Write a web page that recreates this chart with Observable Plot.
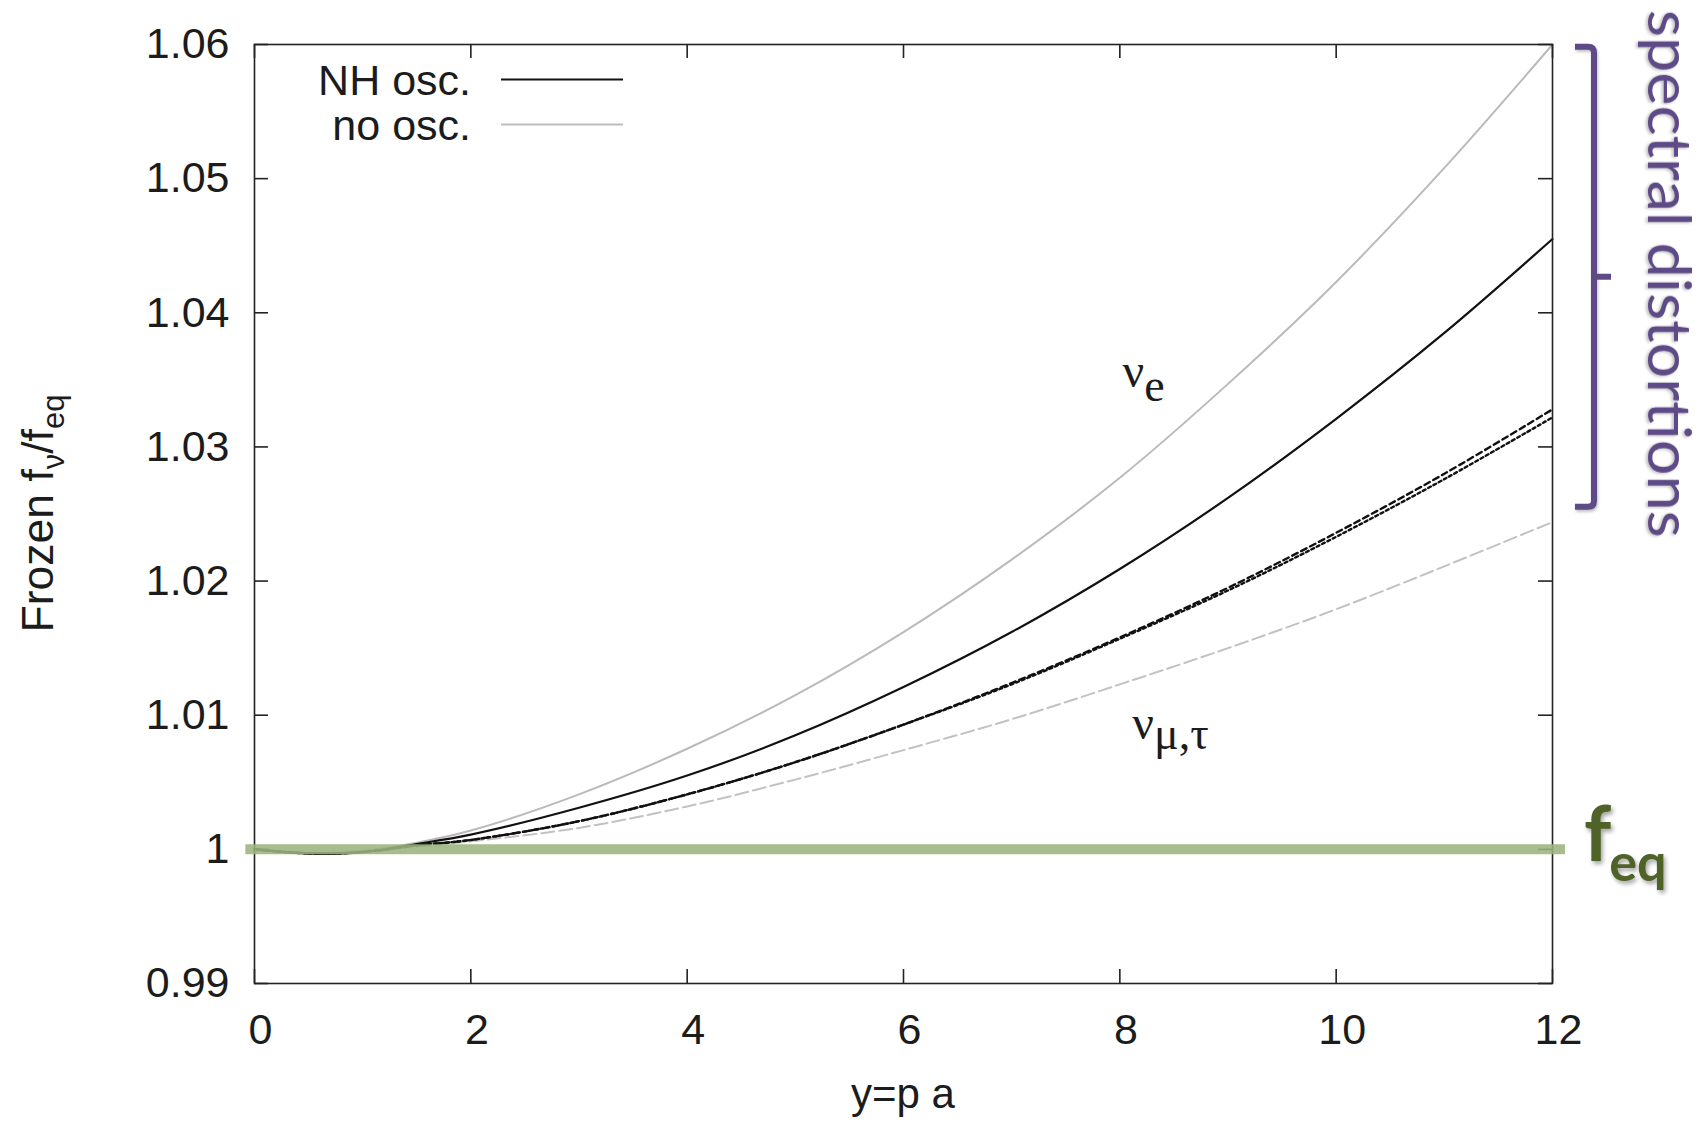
<!DOCTYPE html>
<html>
<head>
<meta charset="utf-8">
<script src="https://cdn.jsdelivr.net/npm/d3@7"></script>
<script src="https://cdn.jsdelivr.net/npm/@observablehq/plot@0.6"></script>
<style>
  html, body { margin: 0; padding: 0; background: #ffffff; }
  #chart { width: 1708px; height: 1126px; }
</style>
</head>
<body>
<div id="chart"></div>
<script>
// Comoving momentum y = p a at which the frozen spectra are sampled
const yGrid = [0, 0.5, 1, 1.5, 2, 3, 4, 5, 6, 7, 8, 9, 10, 11, 12];

// Frozen f_nu / f_eq, normal hierarchy with oscillations
const nhNuE   = [1.0000, 0.9997, 0.9998, 1.0004, 1.0011, 1.0031, 1.0055, 1.0085, 1.0121, 1.0162, 1.0209, 1.0262, 1.0321, 1.0385, 1.0455];
const nhNuMu  = [1.0000, 0.9997, 0.9998, 1.0003, 1.0007, 1.0021, 1.0041, 1.0065, 1.0093, 1.0124, 1.0158, 1.0195, 1.0236, 1.0280, 1.0328];
const nhNuTau = [1.0000, 0.9997, 0.9998, 1.0003, 1.0007, 1.0021, 1.0041, 1.0065, 1.0093, 1.0123, 1.0157, 1.0193, 1.0233, 1.0276, 1.0322];

// Frozen f_nu / f_eq without oscillations
const noOscNuE     = [1.0000, 0.9997, 0.9999, 1.0005, 1.0014, 1.0041, 1.0075, 1.0115, 1.0162, 1.0216, 1.0277, 1.0347, 1.0423, 1.0508, 1.0600];
const noOscNuMuTau = [1.0000, 0.9997, 0.9998, 1.0002, 1.0006, 1.0016, 1.0032, 1.0052, 1.0074, 1.0097, 1.0123, 1.0150, 1.0179, 1.0211, 1.0244];

// Axis ticks
const xTicks = [0, 2, 4, 6, 8, 10, 12];
const yTicks = [0.99, 1, 1.01, 1.02, 1.03, 1.04, 1.05, 1.06];

// Equilibrium reference level and the band of distorted spectra
const feqLevel = [{y: 1, x1: -0.08, x2: 12.12}];
const distortionBand = [1.0255, 1.0598];

const width = 1708, height = 1126;
const margin = {top: 44, right: 156, bottom: 143, left: 254};
const plotW = width - margin.left - margin.right;
const plotH = height - margin.top - margin.bottom;
const tickLen = 14;
const ink = "#1c1c1c";
const sans = "'Liberation Sans', Arial, Helvetica, sans-serif";
const serif = "'Liberation Serif', 'Times New Roman', serif";
const humanist = "Lato, 'Open Sans', sans-serif";

const rows = (values) => yGrid.map((x, i) => ({x, v: values[i]}));
const fmtY = (d) => (d === 1 ? "1" : d3.format(".2f")(d));
const curve = "catmull-rom";

const plot = Plot.plot({
  width, height,
  marginTop: margin.top, marginRight: margin.right,
  marginBottom: margin.bottom, marginLeft: margin.left,
  style: {fontFamily: sans, color: ink, background: "#ffffff", overflow: "visible"},
  x: {domain: [0, 12]},
  y: {domain: [0.99, 1.06]},
  marks: [
    // curves
    Plot.line(rows(noOscNuE), {x: "x", y: "v", stroke: "#bababa", strokeWidth: 2, curve}),
    Plot.line(rows(noOscNuMuTau), {x: "x", y: "v", stroke: "#c2c2c2", strokeWidth: 2, strokeDasharray: "13,5", curve}),
    Plot.line(rows(nhNuE), {x: "x", y: "v", stroke: "#111111", strokeWidth: 2.2, curve}),
    Plot.line(rows(nhNuMu), {x: "x", y: "v", stroke: "#111111", strokeWidth: 2.4, strokeDasharray: "6,4", curve}),
    Plot.line(rows(nhNuTau), {x: "x", y: "v", stroke: "#111111", strokeWidth: 2.4, strokeDasharray: "3,3", curve}),
    // frame with inward ticks on all four sides
    Plot.frame({stroke: "#222222", strokeWidth: 1.6}),
    Plot.tickX(xTicks, {x: (d) => d, insetTop: plotH - tickLen, stroke: "#222222", strokeWidth: 1.6}),
    Plot.tickX(xTicks, {x: (d) => d, insetBottom: plotH - tickLen, stroke: "#222222", strokeWidth: 1.6}),
    Plot.tickY(yTicks, {y: (d) => d, insetRight: plotW - tickLen, stroke: "#222222", strokeWidth: 1.6}),
    Plot.tickY(yTicks, {y: (d) => d, insetLeft: plotW - tickLen, stroke: "#222222", strokeWidth: 1.6}),
    Plot.axisX(xTicks, {anchor: "bottom", tickSize: 0, tickPadding: 30, fontSize: 43, dx: 6, label: null, fill: ink}),
    Plot.axisY(yTicks, {anchor: "left", tickSize: 0, tickPadding: 25, fontSize: 43, tickFormat: fmtY, label: null, fill: ink}),
    // equilibrium level
    Plot.ruleY(feqLevel, {y: "y", x1: "x1", x2: "x2", stroke: "#9cb47d", strokeWidth: 10, strokeOpacity: 0.88, ariaLabel: "feq-line"})
  ]
});

document.getElementById("chart").appendChild(plot);

const sx = plot.scale("x").apply;
const sy = plot.scale("y").apply;
const svg = d3.select(plot);

svg.selectAll('g[aria-label="feq-line"]').style("filter", "drop-shadow(0px 4px 3px rgba(0,0,0,0.35))");

// axis titles
svg.append("text")
  .attr("x", sx(6)).attr("y", height - 18)
  .attr("text-anchor", "middle").attr("font-size", 42).attr("fill", ink)
  .attr("font-family", sans)
  .text("y=p a");

const yTitle = svg.append("text")
  .attr("transform", `translate(53, ${(margin.top + height - margin.bottom) / 2}) rotate(-90)`)
  .attr("text-anchor", "middle").attr("font-size", 44.5).attr("fill", ink)
  .attr("font-family", sans);
yTitle.append("tspan").text("Frozen f");
yTitle.append("tspan").attr("font-size", 31).attr("dy", 11).text("ν");
yTitle.append("tspan").attr("dy", -11).text("/f");
yTitle.append("tspan").attr("font-size", 31).attr("dy", 11).text("eq");

// legend
const legend = [
  {label: "NH osc.", stroke: "#111111", width: 2.2, row: 0},
  {label: "no osc.", stroke: "#bdbdbd", width: 2, row: 1}
];
const lg = svg.append("g").attr("font-family", sans).attr("font-size", 43).attr("fill", ink);
legend.forEach((d) => {
  const base = margin.top + 51 + d.row * 45;
  lg.append("text").attr("x", margin.left + 217).attr("y", base)
    .attr("text-anchor", "end").text(d.label);
  lg.append("line")
    .attr("x1", margin.left + 247).attr("x2", margin.left + 369)
    .attr("y1", base - 15.5).attr("y2", base - 15.5)
    .attr("stroke", d.stroke).attr("stroke-width", d.width);
});

// curve labels
function greekLabel(at, main, sub, dy) {
  const t = svg.append("text")
    .attr("x", sx(at[0])).attr("y", sy(at[1]))
    .attr("text-anchor", "start")
    .attr("font-family", serif).attr("font-size", 48).attr("fill", ink);
  t.append("tspan").text(main);
  t.append("tspan").attr("dy", dy).attr("font-size", 46).text(sub);
}
greekLabel([8.03, 1.0344], "ν", "e", 14);
greekLabel([8.12, 1.0082], "ν", "μ,τ", 10);

// f_eq annotation
const green = "#4f6228";
const feq = svg.append("text")
  .attr("x", sx(12) + 32).attr("y", sy(1) + 12)
  .attr("text-anchor", "start")
  .attr("font-family", humanist).attr("font-weight", 700)
  .attr("font-size", 76).attr("fill", green)
  .style("filter", "drop-shadow(2px 3px 2px rgba(0,0,0,0.35))");
feq.append("tspan").text("f");
feq.append("tspan").attr("font-size", 52).attr("dy", 20).attr("dx", -2).text("eq");

// brace and label for the spectral distortions
const purple = "#5d4a86";
const bx = sx(12) + 42;
const yTop = sy(distortionBand[1]);
const yBot = sy(distortionBand[0]);
const yMid = (yTop + yBot) / 2;
svg.append("path")
  .attr("d", `M${bx - 19},${yTop} L${bx - 6},${yTop} Q${bx},${yTop} ${bx},${yTop + 6} L${bx},${yBot - 6} Q${bx},${yBot} ${bx - 6},${yBot} L${bx - 19},${yBot}`)
  .attr("fill", "none").attr("stroke", purple).attr("stroke-width", 6)
  .style("filter", "drop-shadow(1px 2px 1.5px rgba(0,0,0,0.25))");
svg.append("path")
  .attr("d", `M${bx},${yMid} L${bx + 17},${yMid}`)
  .attr("fill", "none").attr("stroke", purple).attr("stroke-width", 6);

svg.append("text")
  .attr("transform", `translate(${sx(12) + 96}, ${yMid - 3}) rotate(90)`)
  .attr("text-anchor", "middle")
  .attr("font-family", humanist)
  .attr("font-size", 60).attr("fill", purple)
  .attr("textLength", 528).attr("lengthAdjust", "spacingAndGlyphs")
  .style("filter", "drop-shadow(1px 2px 1.5px rgba(0,0,0,0.25))")
  .text("spectral distortions");
</script>
</body>
</html>
